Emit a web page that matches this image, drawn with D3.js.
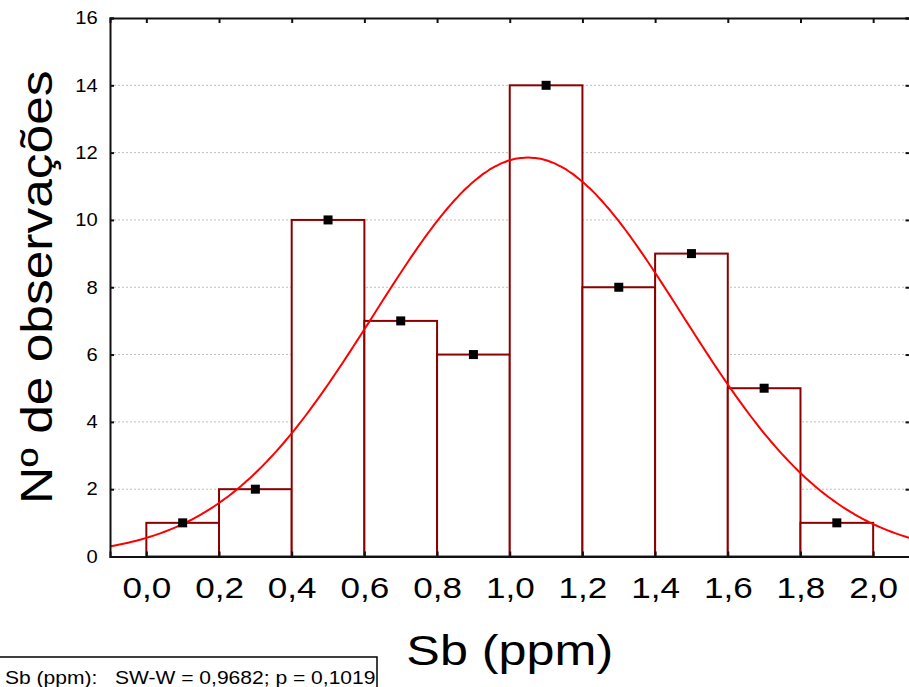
<!DOCTYPE html>
<meta charset="utf-8">
<style>
body {
  margin: 0;
  font-family: "Liberation Sans", Arial, Helvetica;
}
text {
  fill: black;
}
.grid line {
  stroke: #bdbdbd;
  stroke-width: 1;
  stroke-dasharray: 2,2;
}
.bar {
  fill: white;
  stroke: #8b0000;
  stroke-width: 2;
}
.fit {
  fill: none;
  stroke: #ff0000;
  stroke-width: 2;
}
.point {
  fill: black;
}
</style>
<body>
<script src="https://cdn.jsdelivr.net/npm/d3@7"></script>
<script>

// histogram of Sb (ppm), bins of 0.2
var binStart = [0.0, 0.2, 0.4, 0.6, 0.8, 1.0, 1.2, 1.4, 1.6, 1.8];
var binWidth = 0.2;
var counts = [1, 2, 10, 7, 6, 14, 8, 9, 5, 1];

// tick labels
var xTicks = [0.0, 0.2, 0.4, 0.6, 0.8, 1.0, 1.2, 1.4, 1.6, 1.8, 2.0];
var yTicks = [0, 2, 4, 6, 8, 10, 12, 14, 16];

// fitted normal curve
var fitMean = 1.05;
var fitSd = 0.424;

var xTitle = "Sb (ppm)";
var yTitle = "Nº de observações";
var legendText = "Sb (ppm):   SW-W = 0,9682; p = 0,1019";

var width = 909,
    height = 687;

var plot = {left: 110, right: 909.5, top: 18, bottom: 556.5};
var SX = 1.17; // text in the original is a bit wider than Arial

var x = d3.scaleLinear().domain([-0.1, 2.1]).range([plot.left, plot.right]);
var y = d3.scaleLinear().domain([0, 16]).range([plot.bottom, plot.top]);

var fmt = function(d) { return d3.format(".1f")(d).replace(".", ","); };

var svg = d3.select("body").append("svg")
    .attr("width", width)
    .attr("height", height);

svg.append("defs").append("clipPath")
    .attr("id", "clip")
  .append("rect")
    .attr("x", plot.left)
    .attr("y", plot.top)
    .attr("width", plot.right - plot.left)
    .attr("height", plot.bottom - plot.top);

// grid
svg.append("g")
    .attr("class", "grid")
  .selectAll("line")
  .data(yTicks.filter(function(d) { return d > 0 && d < 16; }))
  .enter().append("line")
    .attr("x1", plot.left)
    .attr("x2", plot.right)
    .attr("y1", function(d) { return y(d); })
    .attr("y2", function(d) { return y(d); });

// bars
svg.append("g").selectAll(".bar")
  .data(counts)
  .enter().append("rect")
    .attr("class", "bar")
    .attr("x", function(d, i) { return x(binStart[i]); })
    .attr("y", function(d) { return y(d); })
    .attr("width", function(d, i) { return x(binStart[i] + binWidth) - x(binStart[i]); })
    .attr("height", function(d) { return y(0) - y(d); });

// normal fit
var total = d3.sum(counts);
var fitX = d3.range(-0.1, 2.1001, 0.01);
var normal = function(v) {
  var z = (v - fitMean) / fitSd;
  return total * binWidth / (fitSd * Math.sqrt(2 * Math.PI)) * Math.exp(-0.5 * z * z);
};
var line = d3.line()
    .x(function(d) { return x(d); })
    .y(function(d) { return y(normal(d)); })
    .curve(d3.curveBasis);

svg.append("path")
    .datum(fitX)
    .attr("class", "fit")
    .attr("clip-path", "url(#clip)")
    .attr("d", line);

// points at bin centres
svg.append("g").selectAll(".point")
  .data(counts)
  .enter().append("rect")
    .attr("class", "point")
    .attr("x", function(d, i) { return x(binStart[i] + binWidth / 2) - 4.5; })
    .attr("y", function(d) { return y(d) - 4.5; })
    .attr("width", 9)
    .attr("height", 9);

// axes (ticks point inward)
var frame = svg.append("g");
var xAxisG = frame.append("g")
    .attr("transform", "translate(0," + plot.bottom + ")")
    .call(d3.axisBottom(x).tickValues(xTicks).tickSize(-5).tickPadding(20).tickFormat(fmt));
frame.append("g")
    .attr("transform", "translate(0," + plot.top + ")")
    .call(d3.axisTop(x).tickValues(xTicks).tickSize(-5).tickFormat(""));
var yAxisG = frame.append("g")
    .attr("transform", "translate(" + plot.left + ",0)")
    .call(d3.axisLeft(y).tickValues(yTicks).tickSize(-4).tickPadding(11));
frame.append("g")
    .attr("transform", "translate(" + plot.right + ",0)")
    .call(d3.axisRight(y).tickValues(yTicks).tickSize(-4).tickFormat(""));

frame.selectAll(".domain")
    .attr("stroke", "#111")
    .attr("stroke-width", 2);
frame.selectAll(".tick line")
    .attr("stroke", "#111")
    .attr("stroke-width", 2);

xAxisG.attr("font-family", "'Liberation Sans', Arial").attr("font-size", 30);
xAxisG.selectAll(".tick text")
    .attr("fill", "black")
    .attr("transform", "scale(" + SX + ",1)");

yAxisG.attr("font-family", "'Liberation Sans', Arial").attr("font-size", 18);
yAxisG.selectAll(".tick text")
    .attr("fill", "black")
    .attr("transform", "scale(1.12,1)");

// titles
svg.append("text")
    .attr("transform", "translate(" + (plot.left + plot.right) / 2 + ",665) scale(" + SX + ",1)")
    .attr("text-anchor", "middle")
    .style("font-size", "43px")
    .text(xTitle);

svg.append("text")
    .attr("transform", "translate(52," + (plot.top + plot.bottom) / 2 + ") rotate(-90) scale(" + SX + ",1)")
    .attr("text-anchor", "middle")
    .style("font-size", "44px")
    .text(yTitle);

// Shapiro-Wilk legend box
svg.append("rect")
    .attr("x", -1)
    .attr("y", 657)
    .attr("width", 378)
    .attr("height", 40)
    .attr("fill", "white")
    .attr("stroke", "black")
    .attr("stroke-width", 1.5);

svg.append("text")
    .attr("transform", "translate(5,684) scale(1.17,1)")
    .style("font-size", "18px")
    .style("white-space", "pre")
    .text(legendText);

</script>
